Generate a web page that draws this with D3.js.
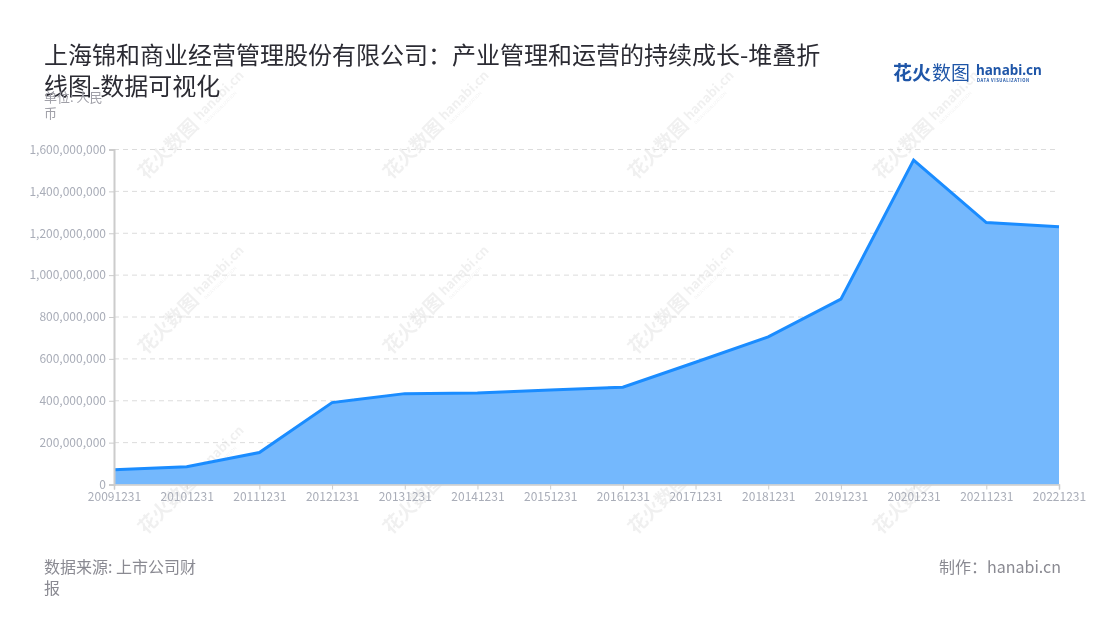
<!DOCTYPE html>
<html>
<head>
<meta charset="utf-8">
<script src="https://cdn.jsdelivr.net/npm/d3@7"></script>
<style>
  html, body { margin: 0; padding: 0; background: #fff; }
  svg { display: block; font-family: "Noto Sans CJK SC", "Noto Sans", sans-serif; }
</style>
</head>
<body>
<svg id="chart" width="1100" height="620"></svg>
<script>
const categories = ["20091231","20101231","20111231","20121231","20131231","20141231","20151231","20161231","20171231","20181231","20191231","20201231","20211231","20221231"];
const values = [70000000, 85000000, 153000000, 391000000, 434000000, 437000000, 451000000, 465000000, 584000000, 705000000, 885000000, 1549000000, 1251000000, 1231000000];
const yTicks = [0, 200000000, 400000000, 600000000, 800000000, 1000000000, 1200000000, 1400000000, 1600000000];
const titleLines = ["上海锦和商业经营管理股份有限公司：产业管理和运营的持续成长-堆叠折", "线图-数据可视化"];
const unitLines = ["单位: 人民", "币"];
const sourceLines = ["数据来源: 上市公司财", "报"];
const credit = "制作：hanabi.cn";

const svg = d3.select("#chart");
const margin = {left: 114, right: 1059, top: 149.5, bottom: 484.5};

const x = d3.scalePoint().domain(categories).range([margin.left, margin.right]);
const y = d3.scaleLinear().domain([0, 1600000000]).range([margin.bottom, margin.top]);

// watermarks
const wm = svg.append("g").attr("opacity", 0.06);
const wmPos = [];
[170, 415, 660, 905].forEach(cx => {
  [145, 320, 500].forEach(cy => wmPos.push([cx, cy]));
});
wmPos.forEach(([cx, cy]) => {
  const g = wm.append("g").attr("transform", `translate(${cx},${cy}) rotate(-45)`);
  g.append("text").attr("x", -42).attr("y", 8).attr("font-size", 19).attr("font-weight", 700).attr("fill", "#000").text("花火数图");
  g.append("text").attr("x", 38).attr("y", 4).attr("font-size", 13).attr("font-weight", 700).attr("fill", "#000").text("hanabi.cn");
  g.append("text").attr("x", 40).attr("y", 11).attr("font-size", 4.5).attr("fill", "#000").text("DATA VISUALIZATION");
});

// grid lines
svg.append("g").selectAll("line").data(yTicks.filter(d => d > 0)).join("line")
  .attr("x1", margin.left).attr("x2", margin.right)
  .attr("y1", d => y(d)).attr("y2", d => y(d))
  .attr("stroke", "#dcdcdc").attr("stroke-width", 1).attr("stroke-dasharray", "5,4");

// area + line
const area = d3.area().x((d, i) => x(categories[i])).y0(y(0)).y1(d => y(d));
const line = d3.line().x((d, i) => x(categories[i])).y(d => y(d));
svg.append("path").datum(values).attr("d", area).attr("fill", "#74b8fd");
svg.append("path").datum(values).attr("d", line).attr("fill", "none")
  .attr("stroke", "#1a8cff").attr("stroke-width", 3).attr("stroke-linejoin", "miter");

// y axis
const yAxis = d3.axisLeft(y).tickValues(yTicks).tickFormat(d3.format(",")).tickSize(5).tickPadding(3);
const gy = svg.append("g").attr("transform", `translate(${margin.left},0)`).call(yAxis);
gy.select(".domain").attr("stroke", "#cccccc").attr("stroke-width", 2);
gy.selectAll(".tick line").attr("stroke", "#cccccc");
gy.selectAll(".tick text").attr("fill", "#a9adb8").attr("font-size", 12)
  .attr("font-family", "'Noto Sans CJK SC', 'Noto Sans', sans-serif");

// x axis
const xAxis = d3.axisBottom(x).tickSize(5).tickPadding(3);
const gx = svg.append("g").attr("transform", `translate(0,${y(0)})`).call(xAxis);
gx.select(".domain").attr("stroke", "#cccccc").attr("stroke-width", 1.5);
gx.selectAll(".tick line").attr("stroke", "#cccccc");
gx.selectAll(".tick text").attr("fill", "#a9adb8").attr("font-size", 12)
  .attr("font-family", "'Noto Sans CJK SC', 'Noto Sans', sans-serif");

// title
svg.append("text").attr("x", 44).attr("y", 64).attr("font-size", 24).attr("fill", "#2b2b33")
  .selectAll("tspan").data(titleLines).join("tspan")
  .attr("x", 44).attr("dy", (d, i) => i === 0 ? 0 : 31).text(d => d);

// unit
svg.append("text").attr("x", 44).attr("y", 102).attr("font-size", 13).attr("fill", "#a0a0a8")
  .selectAll("tspan").data(unitLines).join("tspan")
  .attr("x", 44).attr("dy", (d, i) => i === 0 ? 0 : 16).text(d => d);

// logo
const logo = svg.append("g");
logo.append("text").attr("x", 893).attr("y", 80).attr("font-size", 19).attr("font-weight", 700)
  .attr("fill", "#1f56a8").text("花火");
logo.append("text").attr("x", 932).attr("y", 80).attr("font-size", 19).attr("font-weight", 400)
  .attr("fill", "#1f56a8").text("数图");
logo.append("text").attr("x", 976).attr("y", 75).attr("font-size", 13.5).attr("font-weight", 700)
  .attr("fill", "#1f56a8").attr("font-family", "'Noto Sans', sans-serif").text("hanabi.cn");
logo.append("text").attr("x", 977).attr("y", 82).attr("font-size", 4.2).attr("font-weight", 700)
  .attr("fill", "#1f56a8").attr("letter-spacing", 0.55).text("DATA VISUALIZATION");

// footer
svg.append("text").attr("x", 44).attr("y", 573).attr("font-size", 16).attr("fill", "#8a8a92")
  .selectAll("tspan").data(sourceLines).join("tspan")
  .attr("x", 44).attr("dy", (d, i) => i === 0 ? 0 : 21).text(d => d);
svg.append("text").attr("x", 1061).attr("y", 573).attr("font-size", 16).attr("fill", "#8a8a92")
  .attr("text-anchor", "end").text(credit);
</script>
</body>
</html>
